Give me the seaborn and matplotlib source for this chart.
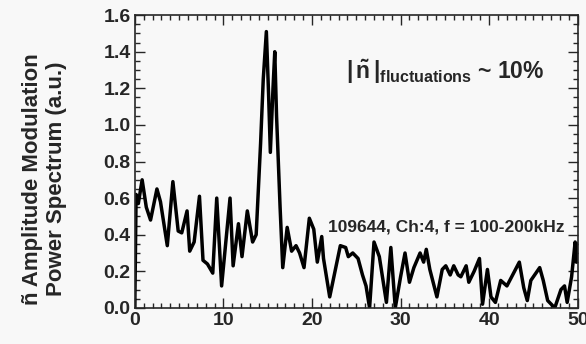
import numpy as np
import pandas as pd
import seaborn as sns
import matplotlib.pyplot as plt
from matplotlib.ticker import MultipleLocator

# values
freq = [0.0, 0.15, 0.4, 0.83, 1.3, 1.78, 2.5, 2.9, 3.67, 4.3, 4.9, 5.3, 5.9, 6.2,
        6.7, 7.3, 7.7, 8.2, 8.8, 9.25, 9.8, 10.75, 11.1, 11.7, 12.1, 12.7, 13.3,
        13.7, 14.2, 14.5, 14.85, 15.1, 15.3, 15.6, 15.8, 16.0, 16.4, 16.7, 17.2,
        17.7, 18.2, 18.6, 19.1, 19.7, 20.2, 20.6, 21.1, 21.3, 22.0, 22.6, 23.2,
        23.8, 24.1, 24.6, 25.2, 25.7, 26.1, 26.5, 27.0, 27.6, 28.4, 28.9, 29.4,
        30.0, 30.5, 31.0, 31.5, 32.2, 32.6, 32.9, 33.3, 34.1, 34.7, 35.1, 35.6,
        36.0, 36.5, 36.8, 37.4, 37.7, 38.3, 38.9, 39.25, 39.8, 40.2, 40.7, 41.3,
        42.0, 43.4, 43.9, 44.3, 44.7, 45.7, 46.1, 46.6, 47.4, 48.1, 48.5, 48.8,
        49.3, 49.7, 49.85, 50.0]
power = [0.0, 0.62, 0.57, 0.70, 0.55, 0.48, 0.65, 0.58, 0.34, 0.69, 0.42, 0.41,
         0.53, 0.31, 0.36, 0.61, 0.26, 0.24, 0.19, 0.60, 0.12, 0.60, 0.23, 0.46,
         0.28, 0.53, 0.36, 0.40, 0.90, 1.25, 1.51, 1.17, 0.85, 1.20, 1.40, 1.05,
         0.55, 0.22, 0.44, 0.31, 0.34, 0.30, 0.22, 0.49, 0.43, 0.25, 0.39, 0.27,
         0.06, 0.20, 0.34, 0.33, 0.28, 0.30, 0.27, 0.18, 0.12, 0.0, 0.36, 0.28,
         0.03, 0.33, 0.0, 0.17, 0.30, 0.14, 0.22, 0.30, 0.25, 0.32, 0.21, 0.06,
         0.21, 0.23, 0.18, 0.23, 0.18, 0.17, 0.23, 0.14, 0.20, 0.27, 0.02, 0.21,
         0.06, 0.03, 0.15, 0.12, 0.25, 0.11, 0.04, 0.15, 0.22, 0.15, 0.04, 0.0,
         0.10, 0.12, 0.03, 0.17, 0.36, 0.25, 0.35]

df = pd.DataFrame({'freq': freq, 'power': power})

sns.set_style('ticks')
plt.rcParams['font.family'] = ['Liberation Sans', 'DejaVu Sans']
plt.rcParams['font.weight'] = 'bold'
plt.rcParams['mathtext.fontset'] = 'custom'
plt.rcParams['mathtext.rm'] = 'Liberation Sans:bold'
plt.rcParams['mathtext.it'] = 'Liberation Sans:bold'
plt.rcParams['mathtext.bf'] = 'Liberation Sans:bold'

fig = plt.figure(figsize=(5.86, 3.44), dpi=100, facecolor='#f8f8f8')
ax = fig.add_axes([0.230, 0.105, 0.756, 0.851])
ax.set_facecolor('#f8f8f8')

sns.lineplot(data=df, x='freq', y='power', sort=False, estimator=None,
             color='black', linewidth=2.5, ax=ax)

ax.set_xlim(0, 50)
ax.set_ylim(0, 1.6)
ax.xaxis.set_major_locator(MultipleLocator(10))
ax.xaxis.set_minor_locator(MultipleLocator(1))
ax.yaxis.set_major_locator(MultipleLocator(0.2))
ax.yaxis.set_minor_locator(MultipleLocator(0.05))
ax.yaxis.set_major_formatter(plt.FuncFormatter(lambda v, p: f'{v:.1f}'))
ax.tick_params(which='both', direction='in', top=True, right=True, width=1.0)
ax.tick_params(which='major', length=7, labelsize=14, pad=3)
ax.tick_params(which='minor', length=3.5)
for s in ax.spines.values():
    s.set_linewidth(1.2)

ax.set_xlabel('')
ax.set_ylabel('ñ Amplitude Modulation\nPower Spectrum (a.u.)', fontsize=16,
              fontweight='bold', linespacing=1.2)
ax.yaxis.set_label_coords(-0.153, 0.44)

ax.text(23.8, 1.25, r'$|\,\tilde{\mathrm{n}}\,|_{\mathrm{fluctuations}}$ ~ 10%',
        fontsize=16.5, fontweight='bold')
ax.text(48.5, 0.415, '109644, Ch:4, f = 100-200kHz', fontsize=12.5,
        fontweight='bold', ha='right')

fig.savefig('out.png', dpi=100, facecolor=fig.get_facecolor())
